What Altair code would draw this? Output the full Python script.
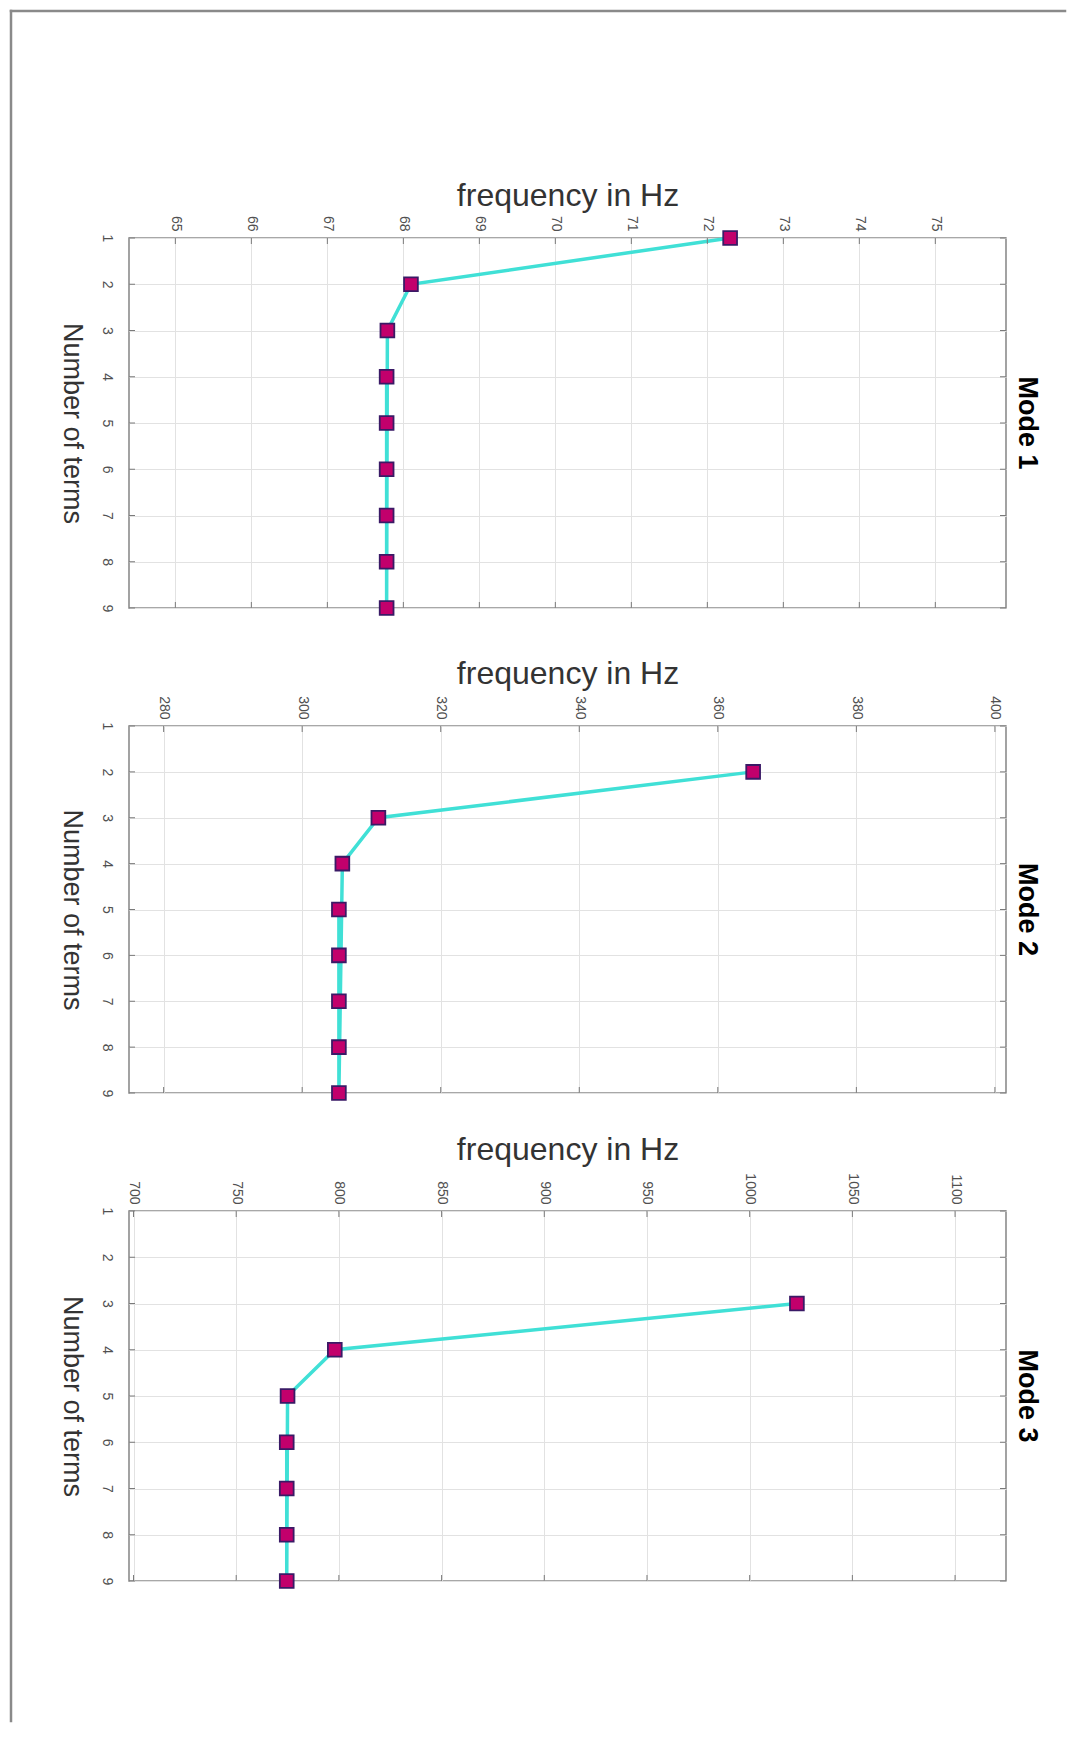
import altair as alt
import pandas as pd

# ---- data ----
terms_all = [1, 2, 3, 4, 5, 6, 7, 8, 9]

mode1_terms = [1, 2, 3, 4, 5, 6, 7, 8, 9]
mode1_freq = [72.30, 68.10, 67.79, 67.78, 67.78, 67.78, 67.78, 67.78, 67.78]

mode2_terms = [2, 3, 4, 5, 6, 7, 8, 9]
mode2_freq = [365.1, 311.0, 305.8, 305.3, 305.3, 305.3, 305.3, 305.3]

mode3_terms = [3, 4, 5, 6, 7, 8, 9]
mode3_freq = [1023.0, 798.0, 775.0, 774.6, 774.6, 774.6, 774.6]

mode1_ticks = [65, 66, 67, 68, 69, 70, 71, 72, 73, 74, 75]
mode2_ticks = [280, 300, 320, 340, 360, 380, 400]
mode3_ticks = [700, 750, 800, 850, 900, 950, 1000, 1050, 1100]

mode1_domain = [64.39, 75.93]
mode2_domain = [275.0, 401.6]
mode3_domain = [697.8, 1124.8]

FONT = "Liberation Sans"
W = 877
TICK = "#7a7a7a"


def panel(terms, freqs, domain, ticks, h, title, title_y, border=False):
    xs = alt.Scale(domain=domain, nice=False, zero=False)
    ys = alt.Scale(domain=[1, 9], nice=False, zero=False, reverse=True)
    xaxis = alt.Axis(
        orient="top", values=ticks, title="frequency in Hz",
        titleFont=FONT, titleFontSize=32, titleFontWeight="normal", titleColor="#333333",
        titleX=W / 2, titleY=title_y, titleAlign="center", titleBaseline="alphabetic", titleAngle=0,
        labelAngle=90, labelAlign="right", labelBaseline="middle", labelPadding=7,
        labelFont=FONT, labelFontSize=14, labelColor="#505050", labelFlush=False,
        labelOverlap=False, format="d",
    )
    yaxis = alt.Axis(
        orient="left", values=terms_all, title="Number of terms",
        titleFont=FONT, titleFontSize=27, titleFontWeight="normal", titleColor="#333333",
        titleX=-66, titleY=h / 2, titleAlign="center", titleBaseline="alphabetic", titleAngle=90,
        labelAngle=90, labelAlign="center", labelBaseline="top", labelPadding=16,
        labelFont=FONT, labelFontSize=14, labelColor="#505050", labelFlush=False,
        labelOverlap=False, format="d",
    )
    df = pd.DataFrame({"terms": terms, "freq": freqs})
    base = alt.Chart(df).encode(
        x=alt.X("freq:Q", scale=xs, axis=xaxis),
        y=alt.Y("terms:Q", scale=ys, axis=yaxis),
    )
    line = base.mark_line(color="#40e0d6", strokeWidth=3.5)
    pts = base.mark_square(size=190, fill="#c2006c", stroke="#3a1a66", strokeWidth=1.8, opacity=1)

    xt = pd.DataFrame({"freq": ticks})
    yt = pd.DataFrame({"terms": terms_all})
    tick_top = alt.Chart(xt).mark_rule(color=TICK, strokeWidth=1).encode(
        x=alt.X("freq:Q", scale=xs, axis=xaxis), y=alt.value(0), y2=alt.value(6))
    tick_bot = alt.Chart(xt).mark_rule(color=TICK, strokeWidth=1).encode(
        x=alt.X("freq:Q", scale=xs, axis=xaxis), y=alt.value(h), y2=alt.value(h - 6))
    tick_l = alt.Chart(yt).mark_rule(color=TICK, strokeWidth=1).encode(
        y=alt.Y("terms:Q", scale=ys, axis=yaxis), x=alt.value(0), x2=alt.value(6))
    tick_r = alt.Chart(yt).mark_rule(color=TICK, strokeWidth=1).encode(
        y=alt.Y("terms:Q", scale=ys, axis=yaxis), x=alt.value(W), x2=alt.value(W - 6))

    one = alt.Chart(pd.DataFrame({"label": [title]}))
    mode_txt = one.mark_text(
        angle=90, font=FONT, fontSize=27, fontWeight="bold", color="#000000",
        align="center", baseline="alphabetic",
    ).encode(x=alt.value(W + 13), y=alt.value(h / 2), text="label:N")

    layers = [line, pts, tick_top, tick_bot, tick_l, tick_r, mode_txt]
    if border:
        b = alt.Chart(pd.DataFrame({"k": [0]}))
        top_b = b.mark_rule(color="#8a8a8a", strokeWidth=2.5, strokeCap="square").encode(
            x=alt.value(-118), x2=alt.value(936), y=alt.value(-227))
        left_b = b.mark_rule(color="#8a8a8a", strokeWidth=2.5, strokeCap="square").encode(
            x=alt.value(-118), y=alt.value(-227), y2=alt.value(1483))
        layers = [top_b, left_b] + layers

    return alt.layer(*layers).properties(width=W, height=h)


p1 = panel(mode1_terms, mode1_freq, mode1_domain, mode1_ticks, 370, "Mode 1", -33, border=True)
p2 = panel(mode2_terms, mode2_freq, mode2_domain, mode2_ticks, 367, "Mode 2", -43)
p3 = panel(mode3_terms, mode3_freq, mode3_domain, mode3_ticks, 370, "Mode 3", -52)

chart = alt.VConcatChart(vconcat=[p1, p2, p3], spacing=118, bounds="flush").properties(
    padding={"left": 0, "top": 0, "right": 0, "bottom": 0},
    background="white",
).configure_view(
    stroke="#8c8c8c", strokeWidth=1.6
).configure_axis(
    domain=False, grid=True, gridColor="#e2e2e2", gridWidth=1, ticks=False, tickSize=0
)

chart.save("out.html", embed_options={"renderer": "svg", "actions": False})
